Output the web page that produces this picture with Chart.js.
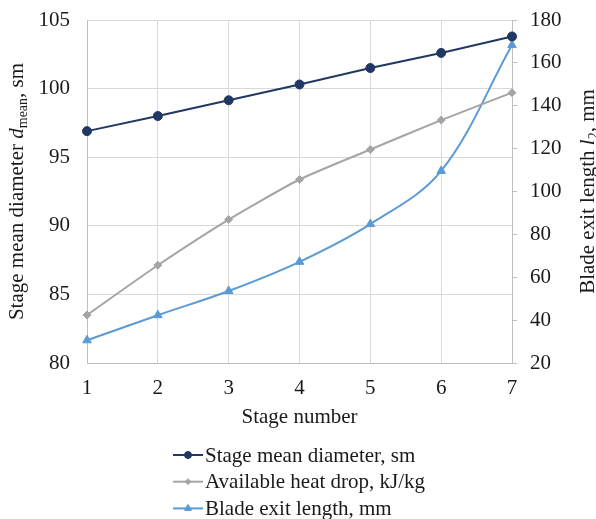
<!DOCTYPE html>
<html>
<head>
<meta charset="utf-8">
<script src="https://cdn.jsdelivr.net/npm/chart.js@4"></script>
<style>
  html, body { margin: 0; padding: 0; background: #fff; }
  #wrap { width: 596px; height: 519px; position: relative; }
</style>
</head>
<body>
<div id="wrap"><canvas id="chart" width="596" height="519"></canvas></div>
<script>
// Data
const stages = ['1', '2', '3', '4', '5', '6', '7'];
const meanDiameter = [96.9, 98.0, 99.15, 100.3, 101.5, 102.6, 103.8];   // sm, left axis
const heatDrop = [42.4, 65.6, 86.9, 105.6, 119.6, 133.3, 146.1];         // kJ/kg, right axis
const bladeLength = [30.6, 42.3, 53.6, 67.2, 84.8, 109.6, 168.3];        // mm, right axis
const leftTicks = { min: 80, max: 105, step: 5 };
const rightTicks = { min: 20, max: 180, step: 20 };

const FONT = "'Liberation Serif', 'Times New Roman', serif";
const TXT = '#1a1a1a';
const GRID = '#d9d9d9';
const AXIS = '#bfbfbf';

// Axis titles (with italic symbol + subscript), x title and legend
const extras = {
  id: 'extras',
  afterDraw(chart) {
    const ctx = chart.ctx;
    const a = chart.chartArea;
    const midY = (a.top + a.bottom) / 2;

    function richTitle(parts, x, y) {
      ctx.save();
      ctx.translate(x, y);
      ctx.rotate(-Math.PI / 2);
      ctx.fillStyle = TXT;
      ctx.textBaseline = 'middle';
      const fonts = parts.map(p => (p.it ? 'italic ' : '') + (p.sub ? '14px ' : '21px ') + FONT);
      let total = 0;
      parts.forEach((p, i) => { ctx.font = fonts[i]; total += ctx.measureText(p.t).width; });
      let cx = -total / 2;
      parts.forEach((p, i) => {
        ctx.font = fonts[i];
        ctx.textAlign = 'left';
        ctx.fillText(p.t, cx, p.sub ? 6 : 0);
        cx += ctx.measureText(p.t).width;
      });
      ctx.restore();
    }

    richTitle([
      { t: 'Stage mean diameter ' },
      { t: 'd', it: true },
      { t: 'mean', sub: true },
      { t: ', sm' }
    ], 17, midY);

    richTitle([
      { t: 'Blade exit length ' },
      { t: 'l', it: true },
      { t: '2', sub: true },
      { t: ', mm' }
    ], 588, midY);

    ctx.save();
    ctx.fillStyle = TXT;
    ctx.font = '21px ' + FONT;
    ctx.textAlign = 'center';
    ctx.textBaseline = 'middle';
    ctx.fillText('Stage number', (a.left + a.right) / 2, 417);

    // legend: line with the marker in its middle, then the label
    ctx.textAlign = 'left';
    chart.data.datasets.forEach((ds, i) => {
      const y = 455 + i * 26.7;
      ctx.strokeStyle = ds.borderColor;
      ctx.lineWidth = 2;
      ctx.beginPath();
      ctx.moveTo(173, y);
      ctx.lineTo(203, y);
      ctx.stroke();
      ctx.fillStyle = ds.borderColor;
      ctx.lineWidth = 1;
      Chart.helpers.drawPoint(ctx, {
        pointStyle: ds.pointStyle,
        radius: ds.pointRadius - 1,
        borderWidth: 1,
        rotation: 0
      }, 188, y);
      ctx.fillStyle = TXT;
      ctx.fillText(ds.label, 205, y + 1);
    });
    ctx.restore();
  }
};

// keep the plot area where the reference has it: no extra room for the top tick label
const noTopPad = s => { s.paddingTop = 0; s.paddingBottom = 0; };

new Chart(document.getElementById('chart'), {
  type: 'line',
  data: {
    labels: stages,
    datasets: [
      {
        label: 'Stage mean diameter, sm',
        data: meanDiameter,
        yAxisID: 'y',
        borderColor: '#203864',
        backgroundColor: '#203864',
        borderWidth: 2,
        pointStyle: 'circle',
        pointRadius: 4.5,
        pointBorderWidth: 1,
        tension: 0
      },
      {
        label: 'Available heat drop, kJ/kg',
        data: heatDrop,
        yAxisID: 'y2',
        borderColor: '#a5a5a5',
        backgroundColor: '#a5a5a5',
        borderWidth: 2,
        pointStyle: 'rectRot',
        pointRadius: 4,
        pointBorderWidth: 1,
        tension: 0.2
      },
      {
        label: 'Blade exit length, mm',
        data: bladeLength,
        yAxisID: 'y2',
        borderColor: '#5b9bd5',
        backgroundColor: '#5b9bd5',
        borderWidth: 2,
        pointStyle: 'triangle',
        pointRadius: 5,
        pointBorderWidth: 1,
        tension: 0.35
      }
    ]
  },
  options: {
    responsive: false,
    animation: false,
    layout: { padding: { top: 20, bottom: 0, left: 0, right: 0 } },
    plugins: {
      legend: { display: false },
      tooltip: { enabled: false }
    },
    scales: {
      x: {
        type: 'category',
        offset: false,
        afterFit: s => { s.height = 156; },
        grid: { color: GRID, drawTicks: false },
        border: { color: AXIS },
        ticks: { color: TXT, font: { family: FONT, size: 21 }, padding: 13, maxRotation: 0 }
      },
      y: {
        position: 'left',
        min: leftTicks.min,
        max: leftTicks.max,
        afterFit: s => { s.width = 87; noTopPad(s); },
        grid: { color: GRID, drawTicks: false },
        border: { color: AXIS },
        ticks: { stepSize: leftTicks.step, color: TXT, font: { family: FONT, size: 21 }, padding: 17 }
      },
      y2: {
        position: 'right',
        min: rightTicks.min,
        max: rightTicks.max,
        afterFit: s => { s.width = 84; noTopPad(s); },
        grid: { drawOnChartArea: false, color: AXIS, tickLength: 5 },
        border: { color: AXIS },
        ticks: { stepSize: rightTicks.step, color: TXT, font: { family: FONT, size: 21 }, padding: 13 }
      }
    }
  },
  plugins: [extras]
});
</script>
</body>
</html>
